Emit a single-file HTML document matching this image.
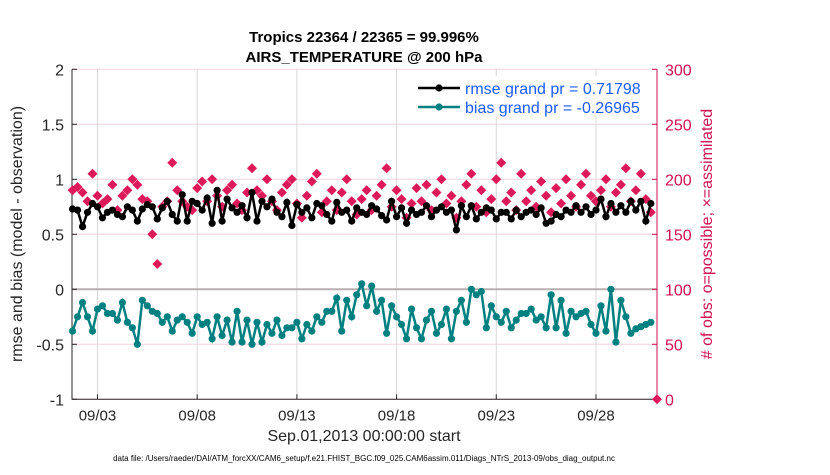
<!DOCTYPE html>
<html><head><meta charset="utf-8"><style>
body{margin:0;background:#fff;}
svg{font-family:"Liberation Sans",sans-serif;}
</style></head><body>
<svg id="c" width="830" height="470" xmlns="http://www.w3.org/2000/svg"></svg>
<script>
const xTickLabels=["09/03","09/08","09/13","09/18","09/23","09/28"];
const xTickDays=[2,7,12,17,22,27];
const yLeftTicks=[-1,-0.5,0,0.5,1,1.5,2];
const yRightTicks=[0,50,100,150,200,250,300];
const rmse=[0.73,0.72,0.57,0.70,0.78,0.75,0.65,0.70,0.72,0.68,0.66,0.75,0.72,0.62,0.73,0.77,0.75,0.64,0.74,0.80,0.68,0.62,0.86,0.62,0.80,0.78,0.72,0.83,0.60,0.90,0.62,0.82,0.74,0.70,0.76,0.65,0.88,0.62,0.80,0.75,0.82,0.70,0.66,0.79,0.58,0.77,0.70,0.74,0.65,0.78,0.76,0.68,0.62,0.79,0.70,0.72,0.62,0.74,0.70,0.68,0.76,0.73,0.67,0.63,0.80,0.66,0.74,0.60,0.72,0.68,0.70,0.76,0.66,0.72,0.75,0.70,0.72,0.54,0.76,0.66,0.76,0.64,0.70,0.74,0.72,0.64,0.70,0.70,0.64,0.72,0.66,0.70,0.72,0.68,0.74,0.60,0.62,0.68,0.66,0.72,0.70,0.76,0.70,0.75,0.68,0.72,0.82,0.66,0.78,0.70,0.76,0.70,0.80,0.72,0.80,0.62,0.78];
const bias=[-0.38,-0.25,-0.12,-0.25,-0.38,-0.18,-0.15,-0.22,-0.22,-0.28,-0.12,-0.30,-0.35,-0.50,-0.10,-0.15,-0.20,-0.22,-0.30,-0.25,-0.38,-0.28,-0.25,-0.30,-0.40,-0.25,-0.32,-0.30,-0.45,-0.25,-0.42,-0.28,-0.48,-0.20,-0.48,-0.28,-0.50,-0.30,-0.48,-0.32,-0.40,-0.28,-0.42,-0.35,-0.35,-0.30,-0.45,-0.32,-0.38,-0.25,-0.30,-0.20,-0.20,-0.08,-0.38,-0.10,-0.25,-0.05,0.05,-0.15,0.03,-0.20,-0.10,-0.40,-0.15,-0.25,-0.32,-0.45,-0.18,-0.35,-0.45,-0.28,-0.20,-0.40,-0.32,-0.18,-0.45,-0.20,-0.10,-0.30,0.0,-0.05,-0.02,-0.35,-0.15,-0.25,-0.30,-0.20,-0.35,-0.28,-0.22,-0.22,-0.18,-0.28,-0.25,-0.35,-0.05,-0.35,-0.10,-0.40,-0.20,-0.25,-0.22,-0.20,-0.32,-0.40,-0.15,-0.38,0.0,-0.48,-0.10,-0.25,-0.40,-0.36,-0.34,-0.32,-0.30];
const obs=[190,193,188,180,205,185,178,182,195,172,185,190,200,195,182,180,150,123,175,180,215,190,180,175,172,192,198,180,200,185,175,190,195,178,172,188,210,190,185,200,180,172,188,195,200,178,165,185,198,205,170,180,190,172,188,200,180,168,182,190,172,185,195,210,175,190,182,165,178,192,180,195,172,188,200,178,185,165,180,195,205,175,190,170,182,200,215,180,188,172,205,180,190,175,198,185,170,192,178,200,185,175,195,205,185,180,190,200,175,188,195,210,180,190,205,182,170];
const startDay=0.75, stepDay=0.25;
const L=72,R=657,T=69.3,B=399.3;
const xs=d=>57.6+19.94*d;
const yl=v=>B-(v+1)*110;
const yr=v=>B-v*1.1;
const svg=document.getElementById('c');
const NS="http://www.w3.org/2000/svg";
function mk(tag,at,txt){const e=document.createElementNS(NS,tag);for(const k in at)e.setAttribute(k,at[k]);if(txt!==undefined)e.textContent=txt;svg.appendChild(e);return e;}
yLeftTicks.forEach(v=>{const g=mk('line',{x1:L,x2:R,y1:yl(v),y2:yl(v),stroke:'#f5d0e0','stroke-width':1});

});
xTickDays.forEach(d=>{const g=mk('line',{x1:xs(d),x2:xs(d),y1:T,y2:B,stroke:'#d8d8d8','stroke-width':1});

});
const z=mk('line',{x1:L,x2:R,y1:yl(0),y2:yl(0),stroke:'#b8b0b0','stroke-width':2});


const ax=mk('path',{d:`M${L},${T}V${B}H${R}`,fill:'none',stroke:'#262626','stroke-width':1});


const ar=mk('line',{x1:R,x2:R,y1:T,y2:B,stroke:'#d01050','stroke-width':1});


yLeftTicks.forEach(v=>{mk('line',{x1:L,x2:L+5,y1:yl(v),y2:yl(v),stroke:'#262626'});
const t=mk('text',{x:L-8,y:yl(v)+6,'text-anchor':'end','font-size':16,fill:'#262626'},String(v));

});
yRightTicks.forEach(v=>{mk('line',{x1:R-5,x2:R,y1:yr(v),y2:yr(v),stroke:'#d01050'});
const t=mk('text',{x:R+8,y:yr(v)+6,'font-size':16,fill:'#d01050'},String(v));

});
xTickDays.forEach((d,i)=>{mk('line',{x1:xs(d),x2:xs(d),y1:B,y2:B-5,stroke:'#262626'});
const t=mk('text',{x:xs(d),y:B+21,'text-anchor':'middle','font-size':15,fill:'#262626'},xTickLabels[i]);

});
obs.forEach((v,i)=>{if(v==null)return;const x=xs(startDay+i*stepDay),y=yr(v);
const p=mk('path',{d:`M${x},${y-5}L${x+5},${y}L${x},${y+5}L${x-5},${y}Z`,fill:'#dc1a5a'});

});
const ed=mk('path',{d:`M${R},${B-5}L${R+5},${B}L${R},${B+5}L${R-5},${B}Z`,fill:'#dc1a5a'});


function series(arr,col,name){const pts=arr.map((v,i)=>`${xs(startDay+i*stepDay).toFixed(1)},${yl(v).toFixed(1)}`);
const pl=mk('polyline',{points:pts.join(' '),fill:'none',stroke:col,'stroke-width':2.5});


arr.forEach((v,i)=>{const c=mk('circle',{cx:xs(startDay+i*stepDay),cy:yl(v),r:3.6,fill:col});

});}
series(rmse,'#000','rmse');
series(bias,'#008080','bias');
const lg=mk('rect',{x:415,y:76,width:230,height:41,fill:'#fff',stroke:'none'});


[['#000','rmse grand pr = 0.71798',88],['#008080','bias grand pr = -0.26965',107]].forEach(([c,t,y])=>{
mk('line',{x1:418,x2:460,y1:y,y2:y,stroke:c,'stroke-width':2.5});mk('circle',{cx:439,cy:y,r:3.6,fill:c});
const e=mk('text',{x:465,y:y+6,'font-size':16,fill:'#1a5cff'},t);

});
const t1=mk('text',{x:364,y:42,'text-anchor':'middle','font-size':15,'font-weight':'bold',fill:'#000'},'Tropics 22364 / 22365 = 99.996%');


const t2=mk('text',{x:364,y:62,'text-anchor':'middle','font-size':15,'font-weight':'bold',fill:'#000'},'AIRS_TEMPERATURE @ 200 hPa');


const yt=mk('text',{x:0,y:0,transform:'translate(22,234) rotate(-90)','text-anchor':'middle','font-size':16,fill:'#262626'},'rmse and bias (model - observation)');


const y2=mk('text',{x:0,y:0,transform:'translate(712,234) rotate(-90)','text-anchor':'middle','font-size':16,fill:'#d01050'},'# of obs: o=possible; \u00d7=assimilated');


const xt=mk('text',{x:364,y:441,'text-anchor':'middle','font-size':16,fill:'#262626'},'Sep.01,2013 00:00:00 start');


const fn=mk('text',{x:364,y:461,'text-anchor':'middle','font-size':8,fill:'#000'},'data file: /Users/raeder/DAI/ATM_forcXX/CAM6_setup/f.e21.FHIST_BGC.f09_025.CAM6assim.011/Diags_NTrS_2013-09/obs_diag_output.nc');


</script>
</body></html>
